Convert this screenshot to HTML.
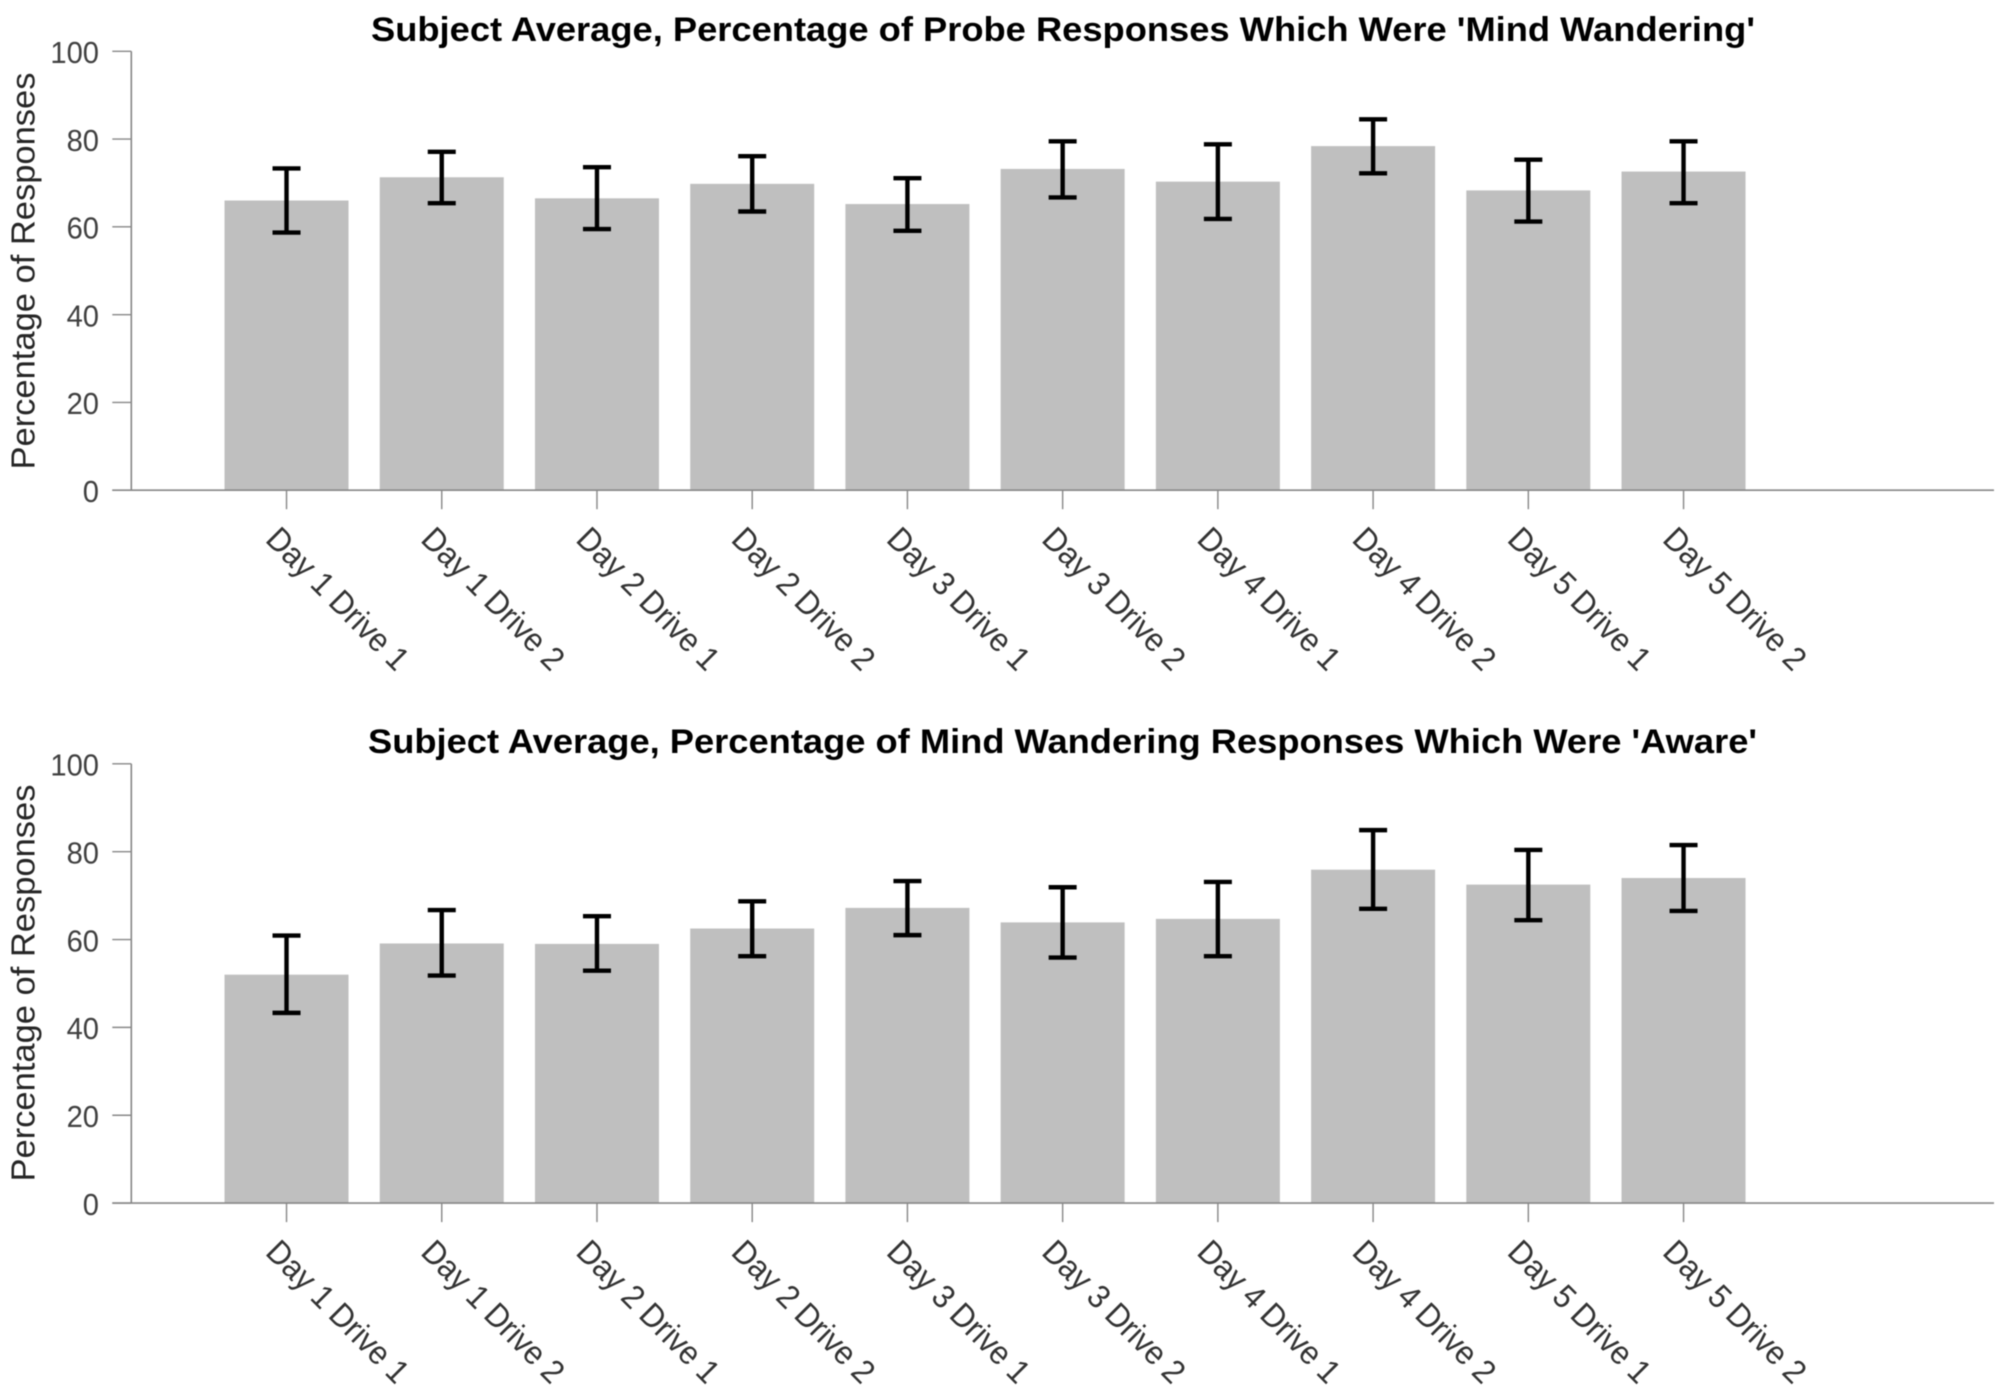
<!DOCTYPE html>
<html lang="en">
<head>
<meta charset="utf-8">
<title>Subject Average Probe Responses</title>
<style>
html,body{margin:0;padding:0;background:#fff;width:2008px;height:1399px;overflow:hidden}
svg{display:block;filter:blur(0.55px)}
text{font-family:"Liberation Sans",Arial,sans-serif}
</style>
</head>
<body>
<svg id="figure" xmlns="http://www.w3.org/2000/svg" width="2008" height="1399" viewBox="0 0 2008 1399">
  <rect x="0" y="0" width="2008" height="1399" fill="#ffffff"/>
  <text x="371" y="41" font-size="34.5" font-weight="700" fill="#000" textLength="1384" lengthAdjust="spacingAndGlyphs">Subject Average, Percentage of Probe Responses Which Were 'Mind Wandering'</text>
  <text x="368" y="753" font-size="34.5" font-weight="700" fill="#000" textLength="1389" lengthAdjust="spacingAndGlyphs">Subject Average, Percentage of Mind Wandering Responses Which Were 'Aware'</text>
  <text transform="translate(34.5 271) rotate(-90)" text-anchor="middle" font-size="33.5" fill="#262626" textLength="397" lengthAdjust="spacingAndGlyphs">Percentage of Responses</text>
  <text transform="translate(34.5 983) rotate(-90)" text-anchor="middle" font-size="33.5" fill="#262626" textLength="397" lengthAdjust="spacingAndGlyphs">Percentage of Responses</text>
  <g id="top-panel"></g>
  <g id="bottom-panel"></g>
</svg>
<script>
const categories = ["Day 1 Drive 1","Day 1 Drive 2","Day 2 Drive 1","Day 2 Drive 2","Day 3 Drive 1","Day 3 Drive 2","Day 4 Drive 1","Day 4 Drive 2","Day 5 Drive 1","Day 5 Drive 2"];
const yTickLabels = [0,20,40,60,80,100];
const wanderingMeans = [66.0,71.3,66.5,69.8,65.2,73.2,70.3,78.4,68.3,72.6];
const wanderingUpper = [73.3,77.1,73.6,76.1,71.1,79.5,78.8,84.5,75.3,79.5];
const wanderingLower = [58.7,65.4,59.5,63.5,59.1,66.7,61.8,72.2,61.2,65.4];
const awareMeans = [52.0,59.1,59.0,62.5,67.2,63.9,64.7,75.9,72.5,74.0];
const awareUpper = [60.9,66.7,65.3,68.7,73.3,71.9,73.1,84.9,80.4,81.5];
const awareLower = [43.3,51.8,52.9,56.2,61.0,55.9,56.2,67.0,64.4,66.5];

const SVG_NS = "http://www.w3.org/2000/svg";
const AXIS_LEFT = 131.3, AXIS_RIGHT = 1994, X_MAX = 12, Y_MAX = 100;
const BAR_WIDTH = 124, TICK_LEN = 19, CAP_HALF = 14;
const AXIS_COLOR = "#878787", BAR_COLOR = "#bfbfbf";

function make(parent, tag, attrs, text) {
  const node = document.createElementNS(SVG_NS, tag);
  for (const key in attrs) node.setAttribute(key, attrs[key]);
  if (text !== undefined) node.textContent = text;
  parent.appendChild(node);
  return node;
}
function xScale(position) {
  return AXIS_LEFT + (position / X_MAX) * (AXIS_RIGHT - AXIS_LEFT);
}
function drawPanel(groupId, yZero, yTop, means, upper, lower) {
  const group = document.getElementById(groupId);
  const yScale = function (value) { return yZero - (value / Y_MAX) * (yZero - yTop); };

  means.forEach(function (value, i) {
    const cx = xScale(i + 1);
    const bar = make(group, "rect", {x: cx - BAR_WIDTH / 2, y: yScale(value), width: BAR_WIDTH, height: yZero - yScale(value), fill: BAR_COLOR});
    
    
  });

  const yAxis = make(group, "line", {x1: AXIS_LEFT, x2: AXIS_LEFT, y1: yTop, y2: yZero, stroke: AXIS_COLOR, "stroke-width": 1.6});
  
  
  const xAxis = make(group, "line", {x1: AXIS_LEFT - TICK_LEN, x2: AXIS_RIGHT, y1: yZero, y2: yZero, stroke: AXIS_COLOR, "stroke-width": 1.6});
  
  

  yTickLabels.forEach(function (value) {
    const y = yScale(value);
    const tick = make(group, "line", {x1: AXIS_LEFT - TICK_LEN, x2: AXIS_LEFT, y1: y, y2: y, stroke: AXIS_COLOR, "stroke-width": 1.4});
    
    
    const label = make(group, "text", {x: 99, y: y + 11.8, "text-anchor": "end", "font-size": 31, fill: "#404040", textLength: String(value).length * 16.2, lengthAdjust: "spacingAndGlyphs"}, String(value));
    
    
  });

  categories.forEach(function (name, i) {
    const cx = xScale(i + 1);
    const tick = make(group, "line", {x1: cx, x2: cx, y1: yZero, y2: yZero + TICK_LEN, stroke: AXIS_COLOR, "stroke-width": 1.4});
    
    
    const label = make(group, "text", {transform: "translate(" + (cx - 22.3) + " " + (yZero + 50.7) + ") rotate(45)", "font-size": 33, fill: "#333333", textLength: 186, lengthAdjust: "spacingAndGlyphs"}, name);
    
    
  });

  means.forEach(function (value, i) {
    const cx = xScale(i + 1);
    const yHigh = yScale(upper[i]);
    const yLow = yScale(lower[i]);
    const err = make(group, "path", {d: "M" + (cx - CAP_HALF) + " " + yHigh + "H" + (cx + CAP_HALF) + "M" + cx + " " + yHigh + "V" + yLow + "M" + (cx - CAP_HALF) + " " + yLow + "H" + (cx + CAP_HALF), fill: "none", stroke: "#000", "stroke-width": 4.4});
    
    
  });
}
drawPanel("top-panel", 490.2, 51.3, wanderingMeans, wanderingUpper, wanderingLower);
drawPanel("bottom-panel", 1203.1, 763.8, awareMeans, awareUpper, awareLower);
</script>
</body>
</html>
